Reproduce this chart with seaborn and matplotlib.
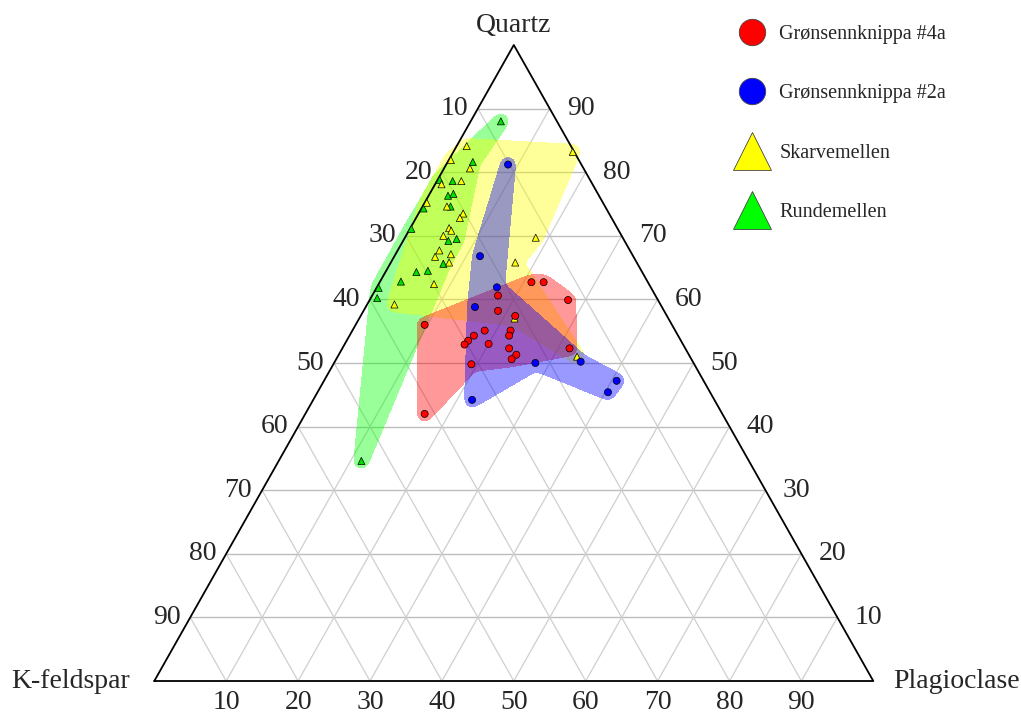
import numpy as np
import pandas as pd
import matplotlib
matplotlib.use('Agg')
import matplotlib.pyplot as plt
import seaborn as sns
from matplotlib.path import Path
from matplotlib.lines import Line2D

# modal compositions in percent: Quartz, K-feldspar, Plagioclase
red_q = [62.7, 62.7, 60.6, 59.9, 58.2, 57.4, 56.0, 55.1, 55.1, 54.3, 54.3, 53.5, 52.9, 53.0, 52.3, 51.3, 50.6, 52.3, 49.8, 42.0]
red_k = [16.2, 14.5, 21.9, 12.5, 23.1, 21.1, 34.4, 26.5, 22.9, 28.4, 23.5, 29.6, 30.4, 27.0, 24.5, 24.0, 25.0, 16.1, 31.0, 41.4]
red_p = [21.1, 22.8, 17.5, 27.6, 18.7, 21.5, 9.6, 18.4, 22.0, 17.3, 22.2, 16.9, 16.7, 20.0, 23.2, 24.7, 24.4, 31.6, 19.2, 16.6]

blue_q = [81.2, 66.8, 61.9, 58.8, 50.0, 50.2, 47.2, 45.4, 44.2]
blue_k = [10.2, 21.3, 21.4, 26.0, 22.0, 15.6, 12.1, 14.2, 33.7]
blue_p = [8.6, 11.9, 16.7, 15.2, 28.0, 34.2, 40.7, 40.4, 22.1]

yellow_q = [84.1, 83.2, 81.9, 80.6, 78.1, 78.6, 75.2, 74.6, 73.5, 72.8, 71.2, 70.8, 70.0, 67.7, 66.7, 67.1, 69.7, 65.8, 65.8, 62.4, 59.2, 57.0, 51.0]
yellow_k = [14.5, 0.2, 17.8, 15.8, 21.0, 18.0, 24.5, 22.0, 20.3, 21.1, 23.4, 23.3, 24.8, 26.5, 27.6, 25.2, 12.1, 26.1, 16.9, 29.9, 37.0, 21.4, 15.7]
yellow_p = [1.4, 16.6, 0.3, 3.6, 0.9, 3.4, 0.3, 3.4, 6.2, 6.1, 5.4, 5.9, 5.2, 5.8, 5.7, 7.7, 18.2, 8.1, 17.3, 7.7, 3.8, 21.6, 33.3]

green_q = [88.0, 81.6, 78.8, 78.6, 76.3, 76.6, 74.3, 74.6, 71.1, 69.2, 69.5, 65.6, 64.3, 64.5, 62.8, 61.8, 60.2, 34.6]
green_k = [7.8, 14.9, 20.9, 19.2, 21.0, 20.1, 25.4, 21.5, 28.7, 24.5, 23.2, 27.0, 31.4, 29.7, 34.3, 37.9, 38.9, 53.9]
green_p = [4.2, 3.5, 0.3, 2.2, 2.7, 3.3, 0.3, 3.9, 0.2, 6.3, 7.3, 7.4, 4.3, 5.8, 2.9, 0.3, 0.9, 11.5]

# outline order of each field (indices into the arrays above)
red_hull = [0, 1, 3, 17, 16, 18, 19, 6]
blue_hull = [0, 2, 5, 6, 7, 4, 8, 3, 1]
yellow_hull = [0, 1, 16, 18, 22, 21, 20, 6, 2]
green_hull = [0, 1, 10, 11, 17, 16, 15, 8, 6, 2]

groups = ['Grønsennknippa #4a', 'Grønsennknippa #2a', 'Skarvemellen', 'Rundemellen']
ticks = [10, 20, 30, 40, 50, 60, 70, 80, 90]

sns.set_style('white')
plt.rcParams['font.family'] = ['Liberation Serif', 'DejaVu Serif']

W, H = 719.0, 636.0
fig = plt.figure(figsize=(10.21, 7.13), dpi=100)
ax = fig.add_axes([154.3 / 1021, 32 / 713, W / 1021, H / 713])
ax.set_xlim(0, 1)
ax.set_ylim(0, 1)
ax.axis('off')


def to_xy(q, k, p):
    q, k, p = (np.asarray(v, float) for v in (q, k, p))
    tot = q + k + p
    q, p = q / tot, p / tot
    return p + q / 2, q


def blur(a, sig):
    r = int(3 * sig)
    ker = np.exp(-0.5 * (np.arange(-r, r + 1) / sig) ** 2)
    ker /= ker.sum()
    a = np.pad(a, r, mode='edge')
    a = np.apply_along_axis(lambda m: np.convolve(m, ker, mode='valid'), 0, a)
    a = np.apply_along_axis(lambda m: np.convolve(m, ker, mode='valid'), 1, a)
    return a


def envelope(x, y, order, color, pad=7.5, alpha=0.4, z=1):
    px = np.asarray(x)[order] * W
    py = np.asarray(y)[order] * H
    poly = np.column_stack([px, py])
    m = pad + 14
    gx = np.arange(px.min() - m, px.max() + m, 0.5)
    gy = np.arange(py.min() - m, py.max() + m, 0.5)
    GX, GY = np.meshgrid(gx, gy)
    inside = Path(poly).contains_points(np.column_stack([GX.ravel(), GY.ravel()])).reshape(GX.shape)
    d = np.full(GX.shape, np.inf)
    for (x0, y0), (x1, y1) in zip(poly, np.roll(poly, -1, axis=0)):
        vx, vy = x1 - x0, y1 - y0
        t = np.clip(((GX - x0) * vx + (GY - y0) * vy) / (vx * vx + vy * vy), 0, 1)
        d = np.minimum(d, np.hypot(GX - x0 - t * vx, GY - y0 - t * vy))
    sd = blur(np.where(inside, -d, d), 6)
    ax.contourf(GX / W, GY / H, sd, levels=[sd.min() - 1, pad], colors=[color], alpha=alpha, zorder=z)


# grid
for t in np.array(ticks) / 100:
    ax.plot([t / 2, 1 - t / 2], [t, t], color='#bdbdbd', lw=1, zorder=0.5)
    ax.plot([t, t + (1 - t) / 2], [0, 1 - t], color='#cfcfcf', lw=0.9, zorder=0.5)
    ax.plot([1 - t, (1 - t) / 2], [0, 1 - t], color='#cfcfcf', lw=0.9, zorder=0.5)
ax.plot([0, 1, 0.5, 0], [0, 0, 1, 0], color='black', lw=1.3, clip_on=False, zorder=3)

sets = [
    (groups[0], red_q, red_k, red_p, red_hull, '#ff0000'),
    (groups[1], blue_q, blue_k, blue_p, blue_hull, '#0000ff'),
    (groups[2], yellow_q, yellow_k, yellow_p, yellow_hull, '#ffff00'),
    (groups[3], green_q, green_k, green_p, green_hull, '#00ff00'),
]

frames = []
zmap = {groups[3]: 1.0, groups[2]: 1.1, groups[0]: 1.2, groups[1]: 1.3}
for name, q, k, p, hull, col in sets:
    x, y = to_xy(q, k, p)
    envelope(x, y, hull, col, z=zmap[name])
    frames.append(pd.DataFrame({'x': x, 'y': y, 'group': name}))
df = pd.concat(frames[::-1], ignore_index=True)

palette = {groups[0]: '#ff0000', groups[1]: '#0000ff', groups[2]: '#ffff00', groups[3]: '#00e000'}
markers = {groups[0]: 'o', groups[1]: 'o', groups[2]: '^', groups[3]: '^'}
sns.scatterplot(data=df, x='x', y='y', hue='group', style='group', palette=palette,
                markers=markers, s=26, edgecolor='black', linewidth=0.5,
                legend=False, ax=ax, zorder=5, clip_on=False)
ax.set_xlim(0, 1)
ax.set_ylim(0, 1)

# axis labels
fs = 20
for v in ticks:
    f = v / 100
    # K-feldspar along left edge
    ax.annotate(str(v), ((1 - f) / 2, 1 - f), xytext=(-10, 0), textcoords='offset pixels',
                ha='right', va='center', fontsize=fs)
    # Quartz along right edge
    ax.annotate(str(v), (1 - f / 2, f), xytext=(17, 0), textcoords='offset pixels',
                ha='left', va='center', fontsize=fs)
    # Plagioclase along base
    ax.annotate(str(v), (f, 0), xytext=(0, -9), textcoords='offset pixels',
                ha='center', va='top', fontsize=fs)

ax.annotate('Quartz', (0.5, 1), xytext=(0, 13), textcoords='offset pixels', ha='center', va='baseline', fontsize=fs)
ax.annotate('K-feldspar', (0, 0), xytext=(-24, -7), textcoords='offset pixels', ha='right', va='baseline', fontsize=fs)
ax.annotate('Plagioclase', (1, 0), xytext=(20, -7), textcoords='offset pixels', ha='left', va='baseline', fontsize=fs)

handles = [
    Line2D([], [], ls='none', marker='o', markersize=19, markerfacecolor='#ff0000', markeredgecolor='#444444', markeredgewidth=0.6),
    Line2D([], [], ls='none', marker='o', markersize=19, markerfacecolor='#0000ff', markeredgecolor='#444444', markeredgewidth=0.6),
    Line2D([], [], ls='none', marker='^', markersize=28, markerfacecolor='#ffff00', markeredgecolor='#444444', markeredgewidth=0.6),
    Line2D([], [], ls='none', marker='^', markersize=28, markerfacecolor='#00ff00', markeredgecolor='#444444', markeredgewidth=0.6),
]
fig.legend(handles, groups, loc='upper left', bbox_to_anchor=(732.0 / 1021, 1 - 25 / 713),
           frameon=False, fontsize=14.5, handlelength=2, handletextpad=0.35,
           labelspacing=2.0, borderpad=0, borderaxespad=0)

plt.savefig('out.png', dpi=100)
